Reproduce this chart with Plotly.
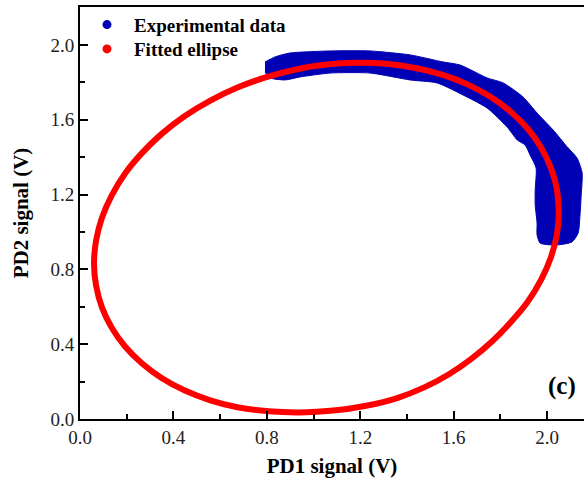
import plotly.graph_objects as go

# Fitted ellipse points, closed loop
ellipse_x = [2.050, 2.042, 2.016, 1.974, 1.917, 1.844, 1.759, 1.661, 1.553, 1.436, 1.313, 1.185,
             1.055, 0.925, 0.798, 0.674, 0.558, 0.449, 0.351, 0.266, 0.193, 0.136, 0.094, 0.069,
             0.060, 0.069, 0.094, 0.136, 0.193, 0.266, 0.351, 0.449, 0.558, 0.674, 0.808, 0.945,
             1.085, 1.225, 1.358, 1.474, 1.578, 1.674, 1.764, 1.844, 1.917, 1.974, 2.016, 2.042,
             2.050, 2.042]
ellipse_y = [1.108, 1.228, 1.343, 1.452, 1.552, 1.643, 1.722, 1.788, 1.840, 1.877, 1.899, 1.905,
             1.895, 1.869, 1.828, 1.772, 1.702, 1.620, 1.526, 1.423, 1.313, 1.196, 1.076, 0.954,
             0.832, 0.712, 0.597, 0.488, 0.388, 0.297, 0.218, 0.152, 0.100, 0.063, 0.041, 0.035,
             0.045, 0.071, 0.112, 0.169, 0.238, 0.320, 0.414, 0.517, 0.627, 0.744, 0.864, 0.986,
             1.108, 1.228]

# Experimental data band outline (outer edge then inner edge)
band_x = [0.792, 0.835, 0.899, 1.071, 1.242, 1.413, 1.555, 1.627, 1.743, 1.812, 1.897, 1.957,
          2.026, 2.086, 2.128, 2.150, 2.146, 2.141, 2.133, 2.107, 2.034, 1.970,
          1.957, 1.957, 1.949, 1.949, 1.953, 1.927, 1.906, 1.872, 1.829, 1.743, 1.657, 1.529,
          1.413, 1.242, 1.071, 0.942, 0.878, 0.814, 0.792]
band_y = [1.909, 1.936, 1.957, 1.968, 1.968, 1.947, 1.909, 1.893, 1.824, 1.797, 1.722, 1.636,
          1.545, 1.455, 1.396, 1.316, 1.198, 1.091, 0.995, 0.947, 0.930, 0.941,
          0.984, 1.048, 1.144, 1.225, 1.342, 1.412, 1.465, 1.492, 1.561, 1.663, 1.722, 1.797,
          1.813, 1.850, 1.850, 1.829, 1.813, 1.824, 1.856]

x_ticks = [0.0, 0.4, 0.8, 1.2, 1.6, 2.0]
y_ticks = [0.0, 0.4, 0.8, 1.2, 1.6, 2.0]

BLUE = "#0000B4"
RED = "#FF0000"
FONT = "Liberation Serif"

fig = go.Figure()
fig.add_trace(go.Scatter(x=band_x, y=band_y, mode="lines", fill="toself",
                         fillcolor=BLUE, line=dict(color=BLUE, width=1, shape="spline", smoothing=0.6),
                         showlegend=False, hoverinfo="skip"))
fig.add_trace(go.Scatter(x=ellipse_x, y=ellipse_y, mode="lines",
                         line=dict(color=RED, width=6, shape="spline", smoothing=1),
                         showlegend=False))
# legend entries
fig.add_trace(go.Scatter(x=[None], y=[None], mode="markers", name="<b>Experimental data</b>",
                         marker=dict(color=BLUE, size=9), legend="legend"))
fig.add_trace(go.Scatter(x=[None], y=[None], mode="markers", name="<b>Fitted ellipse</b>",
                         marker=dict(color=RED, size=9), legend="legend2"))

axis_common = dict(
    showgrid=False, zeroline=False, showline=True, linecolor="black", linewidth=2,
    ticks="inside", ticklen=8, tickwidth=2, tickcolor="black",
    tickfont=dict(family=FONT, size=19, color="#222"),
    minor=dict(ticks="inside", ticklen=5, tickwidth=2, tickcolor="black", dtick=0.2),
)

legend_common = dict(xanchor="left", yanchor="top", bgcolor="rgba(0,0,0,0)",
                     font=dict(family=FONT, size=19, color="black"), itemwidth=44)

fig.update_layout(
    width=584, height=484,
    margin=dict(l=80, r=0, t=7, b=65),
    plot_bgcolor="white", paper_bgcolor="white",
    xaxis=dict(range=[0, 2.158], tickvals=x_ticks, ticktext=[f"{v:.1f}" for v in x_ticks],
               mirror=True,
               title=dict(text="<b>PD1 signal (V)</b>", font=dict(family=FONT, size=21, color="black"),
                          standoff=12),
               **axis_common),
    yaxis=dict(range=[0, 2.203], tickvals=y_ticks, ticktext=[f"{v:.1f}" for v in y_ticks],
               title=dict(text="<b>PD2 signal (V)</b>", font=dict(family=FONT, size=21, color="black"),
                          standoff=16),
               **axis_common),
    legend=dict(x=0.0, y=1.003, **legend_common),
    legend2=dict(x=0.0, y=0.944, **legend_common),
    annotations=[dict(text="<b>(c)</b>", x=0.956, y=0.080, xref="paper", yref="paper",
                      xanchor="center", yanchor="middle",
                      showarrow=False, font=dict(family=FONT, size=25, color="black"))],
)

fig.write_html("out.html")
